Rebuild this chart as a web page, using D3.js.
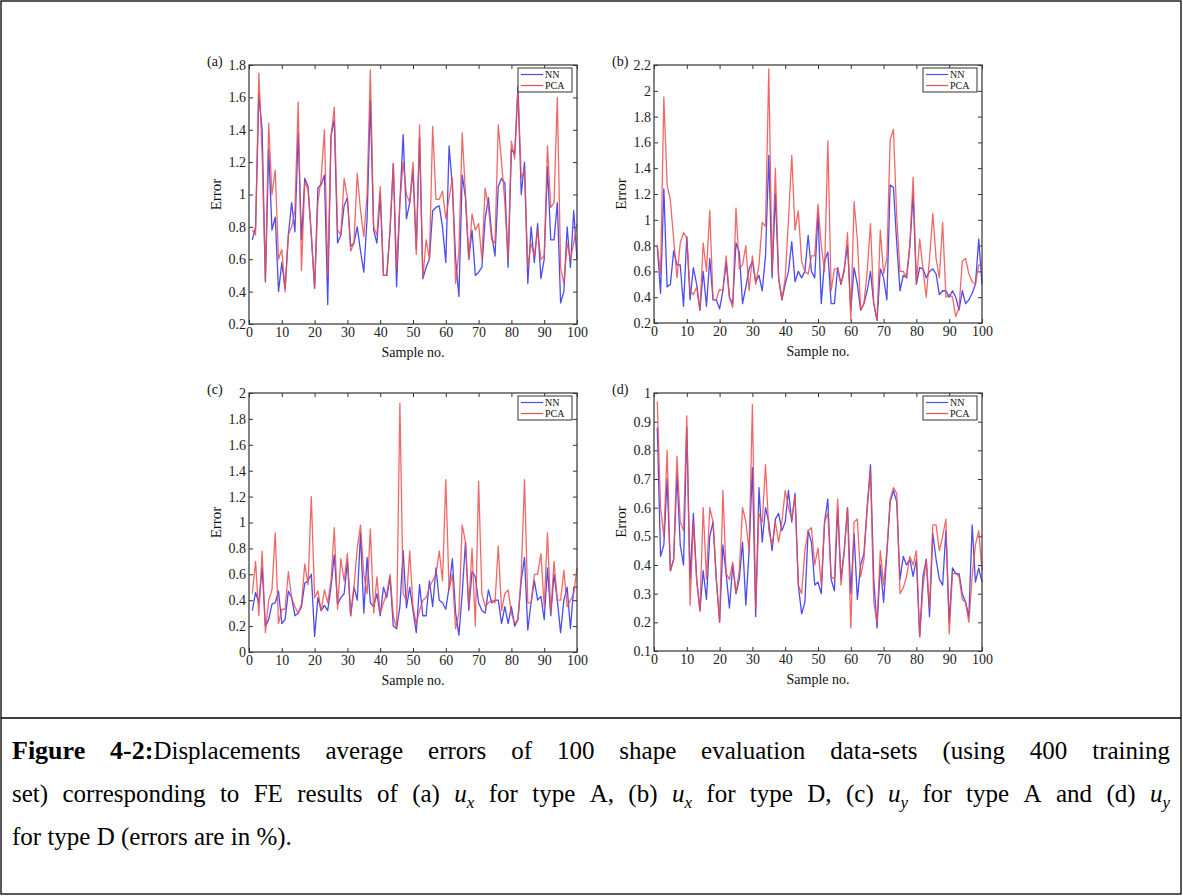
<!DOCTYPE html>
<html><head><meta charset="utf-8">
<script src="https://cdn.jsdelivr.net/npm/d3@7"></script>
<style>body{margin:0;background:#fff}svg{display:block}</style>
</head><body><svg id="c" width="1183" height="896"></svg>
<script>
// ---------- DATA ----------
const sampleNo = d3.range(1, 101);
const xTicks = [0,10,20,30,40,50,60,70,80,90,100];

const nnA = [.72,.80,1.62,1.40,.46,1.28,.78,.86,.40,.58,.42,.75,.95,.77,1.38,.72,1.10,1.05,.75,.42,
1.04,1.06,1.12,.32,1.36,1.46,.70,.75,.93,.98,.68,.70,.80,.65,.52,.85,1.58,.78,.70,1.00,
.50,.50,.78,1.19,.43,.95,1.37,.85,.95,1.15,.66,1.35,.48,.55,.60,.90,.92,.93,.80,.58,
1.30,1.05,.60,.37,1.12,.98,.60,.78,.50,.52,.55,.85,.98,.75,.62,1.05,1.10,1.07,.55,1.28,
1.25,1.67,1.00,1.20,.45,.80,.58,.82,.48,.60,1.17,.72,.72,.95,.33,.40,.80,.55,.90,.60];
const pcaA = [.78,.75,1.75,1.25,.47,1.44,1.00,1.15,.60,.66,.40,.75,.80,.90,1.57,.53,1.08,1.03,.75,.42,
.95,1.10,1.40,.50,1.36,1.54,.78,.75,1.10,.98,.65,.70,1.13,.90,.74,1.00,1.77,.80,.75,1.05,
.50,.50,.78,1.19,.55,.95,1.20,1.00,.95,1.20,.63,1.43,.48,.72,.60,1.42,.97,.97,1.02,.85,
.98,1.10,.45,.65,1.38,1.00,.60,.88,.78,.82,.60,1.04,.92,.72,.70,1.43,1.20,.95,.60,1.33,
1.22,1.65,1.10,1.15,.55,.70,.62,.78,.60,.62,1.30,.92,.95,1.60,.55,.45,.70,.60,.70,.82];

const nnB = [.80,.43,1.24,.48,.50,.76,.65,.65,.33,.87,.38,.63,.50,.30,.60,.33,.70,.38,.38,.31,
.45,.67,.40,.35,.82,.75,.35,.48,.62,.68,.52,.57,.45,.72,1.50,.55,1.20,.55,.38,.50,
.60,.83,.52,.60,.55,.60,.88,.60,.55,1.05,.35,.68,.75,.35,.35,.63,.50,.62,.80,.30,
.63,.50,.30,.35,.45,.60,.35,.22,.62,.55,.38,1.27,1.25,.82,.45,.57,.55,.80,1.20,.50,
.63,.62,.55,.60,.62,.58,.42,.45,.45,.40,.45,.40,.30,.45,.35,.38,.43,.50,.85,.50];
const pcaB = [.80,.58,1.95,1.27,1.15,.85,.55,.82,.90,.86,.45,.42,.48,.30,.82,.60,1.07,.38,.38,.46,
.45,.72,.40,.32,1.09,.62,.65,.80,.45,.72,.50,.65,.98,.95,2.17,.60,1.40,.55,.38,.55,
1.00,1.50,.92,1.07,.68,.60,.58,.72,.72,1.12,.80,.60,1.61,.45,.62,.62,.50,.60,.90,.22,
1.14,.85,.30,.35,.60,.97,.35,.22,.92,.58,.70,1.62,1.70,1.02,.60,.60,.55,.80,1.33,.50,
.85,.62,.40,.70,1.05,.70,.55,.98,.40,.42,.40,.25,.32,.68,.70,.58,.52,.50,.65,.65];

const nnC = [.32,.46,.38,.65,.20,.25,.37,.38,.47,.22,.25,.47,.42,.28,.30,.35,.53,.55,.60,.12,
.42,.32,.36,.32,.50,.75,.37,.42,.45,.70,.28,.50,.40,.92,.30,.73,.38,.35,.45,.28,
.50,.42,.58,.20,.18,.35,.78,.34,.50,.32,.15,.52,.28,.28,.55,.35,.65,.40,.38,.33,
.50,.72,.30,.13,.45,.85,.32,.62,.58,.38,.32,.30,.48,.38,.40,.40,.22,.35,.22,.35,
.20,.25,.55,.73,.17,.38,.55,.40,.43,.25,.65,.28,.60,.40,.15,.40,.50,.18,.50,.50];
const pcaC = [.45,.70,.28,.78,.15,.40,.48,.92,.22,.33,.33,.62,.42,.35,.30,.37,.68,.52,1.20,.42,
.47,.32,.48,.38,.55,.96,.33,.72,.55,.76,.28,.50,.80,.98,.60,.45,.95,.30,.58,.30,
.38,.45,.60,.28,.18,1.92,.45,.40,.78,.35,.22,.32,.40,.42,.50,.55,.60,.78,.55,1.33,
.48,.60,.18,.30,.98,.85,.35,.80,.20,1.32,.45,.35,.38,.40,.38,.82,.32,.45,.48,.30,
.22,.25,.60,1.33,.38,.38,.60,.60,.76,.35,.92,.30,.70,.40,.40,.63,.35,.40,.45,.65];

const nnD = [.88,.43,.47,.70,.38,.42,.72,.47,.40,.88,.35,.58,.35,.24,.38,.28,.50,.55,.35,.20,
.47,.37,.25,.40,.30,.35,.48,.26,.45,.74,.22,.67,.48,.60,.55,.45,.56,.58,.52,.55,
.66,.55,.65,.33,.23,.27,.52,.48,.33,.34,.30,.55,.63,.35,.31,.60,.35,.45,.60,.30,
.51,.28,.40,.44,.60,.75,.35,.18,.40,.27,.44,.62,.66,.62,.35,.43,.40,.42,.36,.42,
.15,.36,.42,.22,.51,.42,.35,.33,.52,.20,.39,.37,.37,.30,.27,.22,.54,.34,.39,.34];
const pcaD = [.97,.60,.50,.80,.38,.42,.78,.55,.52,.92,.26,.55,.35,.24,.60,.35,.60,.55,.35,.20,
.66,.37,.35,.41,.30,.38,.60,.55,.45,.96,.25,.58,.55,.75,.52,.47,.55,.48,.55,.66,
.60,.56,.64,.33,.30,.45,.52,.53,.40,.46,.33,.55,.58,.36,.35,.63,.33,.45,.60,.18,
.55,.56,.36,.42,.60,.73,.27,.20,.45,.33,.45,.63,.67,.65,.30,.32,.36,.43,.40,.45,
.15,.32,.42,.25,.54,.54,.45,.50,.56,.16,.37,.37,.36,.28,.27,.20,.36,.47,.52,.38];

const yTicksA = [0.2,0.4,0.6,0.8,1.0,1.2,1.4,1.6,1.8];
const yTicksB = [0.2,0.4,0.6,0.8,1.0,1.2,1.4,1.6,1.8,2.0,2.2];
const yTicksC = [0,0.2,0.4,0.6,0.8,1.0,1.2,1.4,1.6,1.8,2.0];
const yTicksD = [0.1,0.2,0.3,0.4,0.5,0.6,0.7,0.8,0.9,1.0];
const panelLabels = ["(a)","(b)","(c)","(d)"];
const seriesNames = ["NN","PCA"];
const xLabel = "Sample no.";
const yLabel = "Error";

// ---------- LAYOUT ----------
const svg = d3.select("#c");
svg.append("rect").attr("width",1183).attr("height",896).attr("fill","#fff");
const FONT = "'Liberation Serif','Times New Roman',serif";
const BLUE = "#4c4cf0", RED = "#ee4e4e", AX = "#333";

const panels = [
  {label:panelLabels[0], nn:nnA, pca:pcaA, ticks:yTicksA, left:249, right:577, top:65, bottom:324},
  {label:panelLabels[1], nn:nnB, pca:pcaB, ticks:yTicksB, left:654, right:982, top:65, bottom:323},
  {label:panelLabels[2], nn:nnC, pca:pcaC, ticks:yTicksC, left:249, right:577, top:393, bottom:652},
  {label:panelLabels[3], nn:nnD, pca:pcaD, ticks:yTicksD, left:654, right:982, top:393, bottom:651}
];
const fmt = d => Math.abs(d - Math.round(d)) < 1e-9 ? String(Math.round(d)) : d.toFixed(1);

panels.forEach(p => {
  const g = svg.append("g");
  const x = d3.scaleLinear().domain([0,100]).range([p.left,p.right]);
  const y = d3.scaleLinear().domain([p.ticks[0], p.ticks[p.ticks.length-1]]).range([p.bottom,p.top]);

  const styleAxis = sel => {
    sel.select(".domain").remove();
    sel.selectAll("line").attr("stroke",AX);
    sel.selectAll("text").attr("font-family",FONT).attr("font-size",14).attr("fill","#222");
  };
  g.append("g").attr("transform",`translate(0,${p.bottom})`)
    .call(d3.axisBottom(x).tickValues(xTicks).tickSizeInner(-4).tickSizeOuter(0).tickPadding(3))
    .call(styleAxis);
  g.append("g").attr("transform",`translate(${p.left},0)`)
    .call(d3.axisLeft(y).tickValues(p.ticks).tickFormat(fmt).tickSizeInner(-4).tickSizeOuter(0).tickPadding(3))
    .call(styleAxis);
  g.append("g").attr("transform",`translate(0,${p.top})`)
    .call(d3.axisTop(x).tickValues(xTicks).tickFormat("").tickSizeInner(-4).tickSizeOuter(0))
    .call(styleAxis);
  g.append("g").attr("transform",`translate(${p.right},0)`)
    .call(d3.axisRight(y).tickValues(p.ticks).tickFormat("").tickSizeInner(-4).tickSizeOuter(0))
    .call(styleAxis);

  const line = d3.line().x((d,i)=>x(sampleNo[i])).y(d=>y(d));
  g.append("path").datum(p.nn).attr("d",line).attr("fill","none")
    .attr("stroke",BLUE).attr("stroke-width",1.3).attr("stroke-linejoin","round");
  g.append("path").datum(p.pca).attr("d",line).attr("fill","none")
    .attr("stroke",RED).attr("stroke-width",1.3).attr("stroke-opacity",0.85).attr("stroke-linejoin","round");

  g.append("rect").attr("x",p.left).attr("y",p.top).attr("width",p.right-p.left)
    .attr("height",p.bottom-p.top).attr("fill","none").attr("stroke",AX).attr("stroke-width",1.2);

  // legend
  const lx = p.right-59, ly = p.top+3;
  const lg = g.append("g");
  lg.append("rect").attr("x",lx).attr("y",ly).attr("width",54).attr("height",24)
    .attr("fill","#fff").attr("stroke",AX).attr("stroke-width",1);
  [[seriesNames[0],BLUE,6.5],[seriesNames[1],RED,17.5]].forEach(([n,c,dy])=>{
    lg.append("line").attr("x1",lx+3).attr("x2",lx+25).attr("y1",ly+dy).attr("y2",ly+dy)
      .attr("stroke",c).attr("stroke-width",1.2);
    lg.append("text").attr("x",lx+27).attr("y",ly+dy+3.2).attr("font-family",FONT)
      .attr("font-size",10).attr("fill","#111").text(n);
  });

  g.append("text").attr("x",p.left-42).attr("y",p.top+1).attr("font-family",FONT)
    .attr("font-size",14).attr("fill","#111").text(p.label);
  g.append("text").attr("transform",`translate(${p.left-33},${(p.top+p.bottom)/2}) rotate(-90)`)
    .attr("text-anchor","middle").attr("dominant-baseline","central")
    .attr("font-family",FONT).attr("font-size",15).attr("fill","#111").text(yLabel);
  g.append("text").attr("x",(p.left+p.right)/2).attr("y",p.bottom+33)
    .attr("text-anchor","middle").attr("font-family",FONT).attr("font-size",14)
    .attr("fill","#111").text(xLabel);
});

// ---------- FRAME ----------
svg.append("rect").attr("x",1).attr("y",1).attr("width",1180).attr("height",893)
  .attr("fill","none").attr("stroke","#000").attr("stroke-width",1.3);
svg.append("line").attr("x1",1).attr("x2",1181).attr("y1",718).attr("y2",718)
  .attr("stroke","#000").attr("stroke-width",1.3);

// ---------- CAPTION ----------
const W = t => [{t}];
const B = t => [{t,b:true}];
const U = s => [{t:"u",i:true},{t:s,i:true,sub:true}];
const captionLines = [
  [B("Figure"), [{t:"4-2:",b:true},{t:"Displacements"}], W("average"), W("errors"), W("of"), W("100"),
   W("shape"), W("evaluation"), W("data-sets"), W("(using"), W("400"), W("training")],
  [W("set)"), W("corresponding"), W("to"), W("FE"), W("results"), W("of"), W("(a)"), U("x"), W("for"),
   W("type"), W("A,"), W("(b)"), U("x"), W("for"), W("type"), W("D,"), W("(c)"), U("y"), W("for"),
   W("type"), W("A"), W("and"), W("(d)"), U("y")],
  [W("for"), W("type"), W("D"), W("(errors"), W("are"), W("in"), W("%).")]
];
const CAP_FS = 25, capLeft = 12, capRight = 1170, baselines = [759, 802, 845];
captionLines.forEach((words, li) => {
  const nodes = words.map(runs => {
    const t = svg.append("text").attr("y",baselines[li]).attr("font-family",FONT)
      .attr("font-size",CAP_FS).attr("fill","#000");
    runs.forEach(r => {
      const ts = t.append("tspan").text(r.t);
      if (r.b) ts.attr("font-weight","bold").attr("font-size",CAP_FS+1);
      if (r.i) ts.attr("font-style","italic");
      if (r.sub) ts.attr("font-size",CAP_FS*0.68).attr("dy",6);
    });
    return t;
  });
  const widths = nodes.map(n => n.node().getComputedTextLength());
  const total = d3.sum(widths);
  const justify = li < captionLines.length - 1;
  const gap = justify ? (capRight - capLeft - total) / (nodes.length - 1) : CAP_FS * 0.25;
  let cx = capLeft;
  nodes.forEach((n,i) => { n.attr("x",cx); cx += widths[i] + gap; });
});
</script>
</body></html>
